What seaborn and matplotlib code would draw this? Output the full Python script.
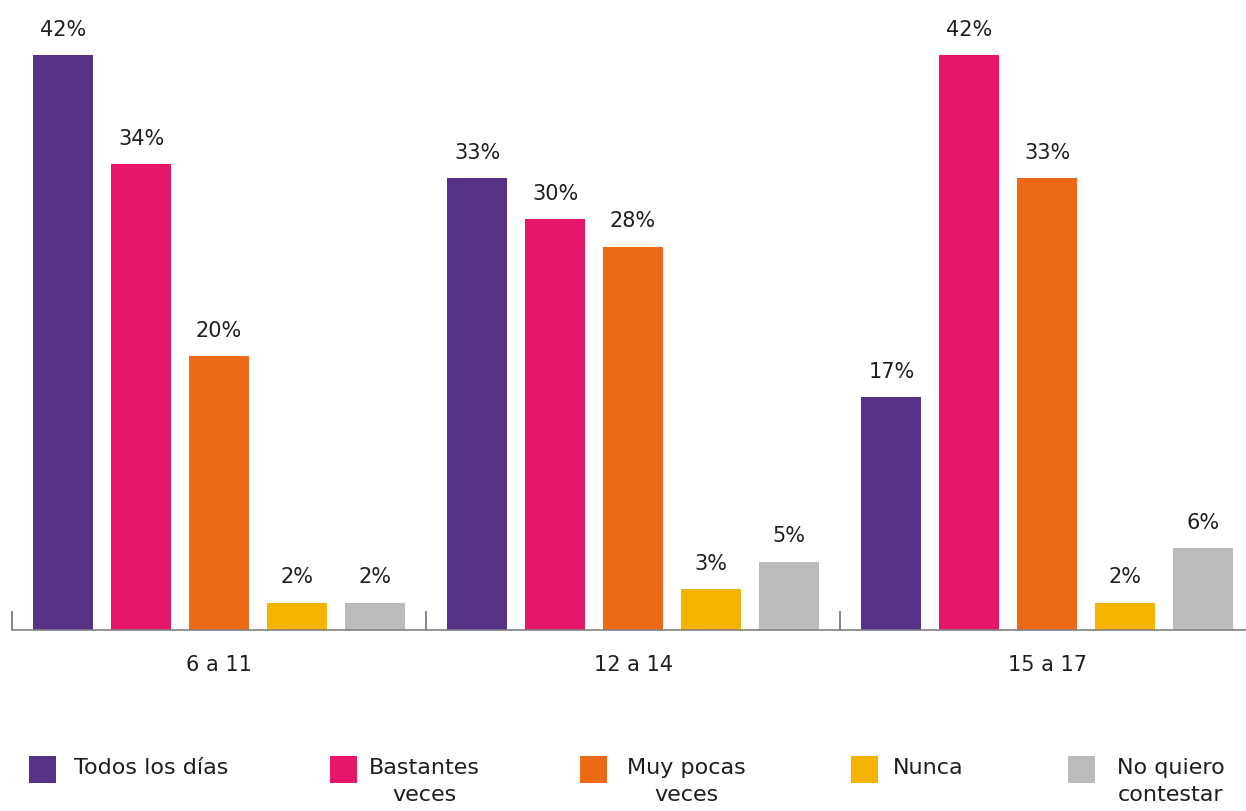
import matplotlib
matplotlib.use("Agg")
import matplotlib.pyplot as plt
from matplotlib.patches import Rectangle
from matplotlib.ticker import FixedLocator
import seaborn as sns
import pandas as pd

# Age groups and answer categories
grupos = ["6 a 11", "12 a 14", "15 a 17"]
respuestas = ["Todos los días", "Bastantes veces", "Muy pocas veces", "Nunca", "No quiero contestar"]
etiquetas_leyenda = ["Todos los días", "Bastantes\nveces", "Muy pocas\nveces", "Nunca", "No quiero\ncontestar"]

# Percentages per answer, in age-group order
todos_los_dias = [42, 33, 17]
bastantes_veces = [34, 30, 42]
muy_pocas_veces = [20, 28, 33]
nunca = [2, 3, 2]
no_contesta = [2, 5, 6]

colores = ["#553188", "#E6176A", "#EC6A16", "#F5B300", "#BBBBBB"]

series = [todos_los_dias, bastantes_veces, muy_pocas_veces, nunca, no_contesta]
df = pd.DataFrame(
    [(g, r, v) for r, vals in zip(respuestas, series) for g, v in zip(grupos, vals)],
    columns=["grupo", "respuesta", "valor"],
)

sns.set_theme(style="white")
plt.rcParams["font.family"] = ["DejaVu Sans"]

W, H = 1246, 811
fig = plt.figure(figsize=(W / 100, H / 100), dpi=100)
ax = fig.add_axes([12 / W, 181 / H, 1242 / W, 630 / H])

sns.barplot(
    data=df, x="grupo", y="valor", hue="respuesta", order=grupos, hue_order=respuestas,
    palette=colores, width=0.94, gap=0.23, saturation=1, errorbar=None, ax=ax,
    legend=False, linewidth=0,
)

for cont in ax.containers:
    ax.bar_label(cont, fmt="%d%%", padding=11, fontsize=15, color="#1e1e1e")

ax.set_xlim(-0.5, 2.5)
ax.set_ylim(0, 46)
ax.set_xlabel("")
ax.set_ylabel("")
ax.set_yticks([])
for s in ["top", "right", "left"]:
    ax.spines[s].set_visible(False)
ax.spines["bottom"].set_color("#808080")
ax.spines["bottom"].set_linewidth(1.2)

ax.tick_params(axis="x", which="major", length=0, pad=18, labelsize=15, labelcolor="#1e1e1e")
ax.xaxis.set_minor_locator(FixedLocator([-0.5, 0.5, 1.5, 2.5]))
ax.tick_params(axis="x", which="minor", direction="in", length=13.7, width=1.2, color="#707070", bottom=True)

# Legend row: colour swatch followed by its label, labels top-aligned
cuadro_x = [29, 330, 580, 851, 1068]
texto_x = [74, 424, 686, 893, 1171]
texto_ha = ["left", "center", "center", "left", "center"]
for cx, tx, ha, color, etiqueta in zip(cuadro_x, texto_x, texto_ha, colores, etiquetas_leyenda):
    fig.patches.append(Rectangle((cx / W, 1 - 783 / H), 27 / W, 27 / H,
                                 transform=fig.transFigure, facecolor=color, edgecolor="none"))
    fig.text(tx / W, 1 - 758 / H, etiqueta, ha=ha, va="top", fontsize=16,
             color="#1e1e1e", multialignment="center", linespacing=1.45)

fig.savefig("out.png", dpi=100)
